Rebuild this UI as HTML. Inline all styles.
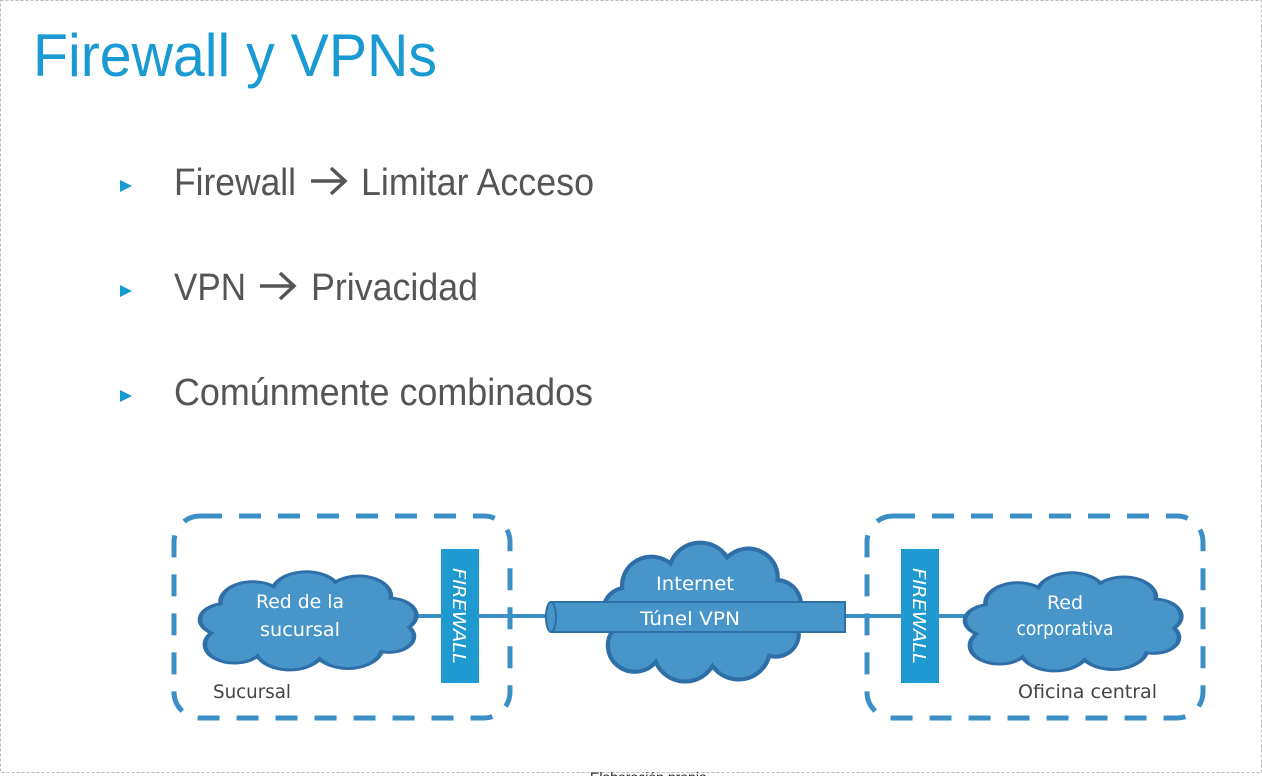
<!DOCTYPE html>
<html><head><meta charset="utf-8"><style>
html,body{margin:0;padding:0;background:#fff;}
svg{display:block}
</style></head><body>
<svg width="1262" height="776" viewBox="0 0 1262 776" xmlns="http://www.w3.org/2000/svg">
<defs>
<path id="cl" d="M8,42 A11,11 0 0 1 12,22 A14,14 0 0 1 35,10 A15,15 0 0 1 62,7 A14,14 0 0 1 86,18 A12,12 0 0 1 94,38 A11,11 0 0 1 82,55 A15,15 0 0 1 55,60 A15,15 0 0 1 28,58 A11,11 0 0 1 8,42 Z"/>
</defs>
<rect x="0.5" y="0.5" width="1261" height="772" fill="none" stroke="#bbb" stroke-dasharray="3,2"/>
<text x="33" y="76" font-family="Liberation Sans, sans-serif" font-size="60" fill="#1a9ad2" textLength="404" lengthAdjust="spacingAndGlyphs">Firewall y VPNs</text>
<g fill="#1a9ad2">
<polygon points="120,180 132,186 120,192"/>
<polygon points="120,285 132,291 120,297"/>
<polygon points="120,390 132,396 120,402"/>
</g>
<g font-family="Liberation Sans, sans-serif" font-size="38" fill="#555">
<text x="174" y="195" textLength="122" lengthAdjust="spacingAndGlyphs">Firewall</text>
<text x="361" y="195" textLength="233" lengthAdjust="spacingAndGlyphs">Limitar Acceso</text>
<text x="174" y="300" textLength="72" lengthAdjust="spacingAndGlyphs">VPN</text>
<text x="311" y="300" textLength="167" lengthAdjust="spacingAndGlyphs">Privacidad</text>
<text x="174" y="405" textLength="419" lengthAdjust="spacingAndGlyphs">Comúnmente combinados</text>
</g>
<g fill="none" stroke="#555" stroke-width="3.5">
<path d="M311,181 H344 M331,168 L345,181 L331,194"/>
<path d="M260,286 H293 M280,273 L294,286 L280,299"/>
</g>
<g fill="none" stroke="#3b8fc5" stroke-width="5" stroke-dasharray="22,17">
<rect x="174" y="516" width="336" height="202" rx="26"/>
<rect x="867" y="516" width="336" height="202" rx="26"/>
</g>
<line x1="410" y1="616" x2="970" y2="616" stroke="#3b8fc5" stroke-width="4"/>
<g fill="#4795c9" stroke="#2f6fa8" stroke-width="2">
<use href="#cl" transform="translate(193,572) scale(2.3,1.45)"/>
<use href="#cl" transform="translate(597,543) scale(2.1,2.05)"/>
<use href="#cl" transform="translate(958,573) scale(2.3,1.45)"/>
</g>
<rect x="551" y="602" width="294" height="30" fill="#4795c9" stroke="#2f6fa8" stroke-width="2"/>
<ellipse cx="551" cy="617" rx="5" ry="15" fill="#4795c9" stroke="#2f6fa8" stroke-width="2"/>
<rect x="441" y="549" width="38" height="134" fill="#1e9ad0"/>
<rect x="901" y="549" width="38" height="134" fill="#1e9ad0"/>
<g font-family="DejaVu Sans, sans-serif" font-size="18" font-style="italic" fill="#fff">
<text transform="translate(453,568) rotate(90)" textLength="96" lengthAdjust="spacingAndGlyphs">FIREWALL</text>
<text transform="translate(913,568) rotate(90)" textLength="96" lengthAdjust="spacingAndGlyphs">FIREWALL</text>
</g>
<g font-family="DejaVu Sans, sans-serif" font-size="19" fill="#fff" text-anchor="middle">
<text x="300" y="608" textLength="88" lengthAdjust="spacingAndGlyphs">Red de la</text>
<text x="300" y="636" textLength="80" lengthAdjust="spacingAndGlyphs">sucursal</text>
<text x="695" y="590" textLength="78" lengthAdjust="spacingAndGlyphs">Internet</text>
<text x="690" y="625" textLength="100" lengthAdjust="spacingAndGlyphs">Túnel VPN</text>
<text x="1065" y="609">Red</text>
<text x="1065" y="635" textLength="97" lengthAdjust="spacingAndGlyphs">corporativa</text>
</g>
<g font-family="DejaVu Sans, sans-serif" font-size="19" fill="#444">
<text x="213" y="698" textLength="78" lengthAdjust="spacingAndGlyphs">Sucursal</text>
<text x="1018" y="698" textLength="139" lengthAdjust="spacingAndGlyphs">Oficina central</text>
</g>
<text x="590" y="782" font-family="Liberation Sans, sans-serif" font-size="14" fill="#222">Elaboración propia</text>
</svg>
</body></html>
